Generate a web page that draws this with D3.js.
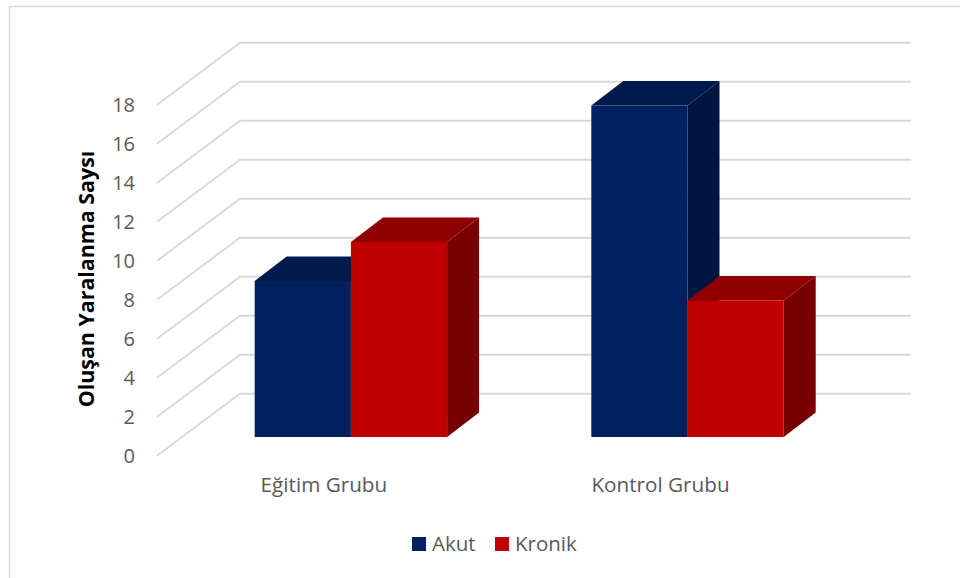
<!DOCTYPE html>
<html><head><meta charset="utf-8">
<script src="https://cdnjs.cloudflare.com/ajax/libs/d3/7.8.5/d3.min.js"></script>
<style>html,body{margin:0;padding:0;background:#fff}svg{display:block}text{font-family:"Open Sans",sans-serif}</style>
</head><body><svg id="c" width="960" height="578"></svg>
<script>
const categories = ["Eğitim Grubu", "Kontrol Grubu"];
const seriesNames = ["Akut", "Kronik"];
const akut = [8, 17];
const kronik = [10, 7];
const tickValues = [0,2,4,6,8,10,12,14,16,18];
const yTitle = "Oluşan Yaralanma Saysı";
const fills = {Akut:{front:"#002060",top:"#001A4D",side:"#001542"},Kronik:{front:"#C00000",top:"#900000",side:"#780000"}};

const svg = d3.select("#c");
svg.append("path").attr("d","M9.5,578V6.5H960").attr("fill","none").attr("stroke","#d9d9d9").attr("stroke-width",1.5);

// wall scale (front edge of the floor)
const y = d3.scaleLinear().domain([0,18]).range([455.7,104.7]);
const wallDx = 83, wallDy = -62, gridRight = 911, wallX = 157;
const grid = svg.append("g");
grid.selectAll("path").data(tickValues).join("path")
  .attr("d",d=>d3.line()([[wallX,y(d)],[wallX+wallDx,y(d)+wallDy],[gridRight,y(d)+wallDy]]))
  .attr("fill","none").attr("stroke","#d9d9d9").attr("stroke-width",2);

const axis = d3.axisLeft(y).tickValues(tickValues).tickSize(0).tickPadding(22);
const ag = svg.append("g").attr("transform",`translate(${wallX},0)`).call(axis);
ag.select(".domain").remove();
ag.selectAll("text").attr("font-size",20).attr("fill","#595959").style("font-family",'"Open Sans",sans-serif');

// bars
const base = 437, barDx = 32, barDy = -24.5;
const v = d3.scaleLinear().domain([0,18]).range([0,y(0)-y(18)]);
const x0 = d3.scaleBand().domain(categories).range([182.6,855.8]).paddingInner(0.4284).paddingOuter(0.2142);
const x1 = d3.scaleBand().domain(seriesNames).range([0,x0.bandwidth()]);
const rows = categories.map((c,i)=>[{c,s:"Akut",val:akut[i]},{c,s:"Kronik",val:kronik[i]}]);
const bars = svg.append("g");
rows.flat().forEach(d=>{
  const l=x0(d.c)+x1(d.s), w=x1.bandwidth(), t=base-v(d.val), c=fills[d.s];
  const g=bars.append("g");
  g.append("polygon").attr("points",[[l,t],[l+barDx,t+barDy],[l+w+barDx,t+barDy],[l+w,t]].join(" ")).attr("fill",c.top);
  g.append("polygon").attr("points",[[l+w,t],[l+w+barDx,t+barDy],[l+w+barDx,base+barDy],[l+w,base]].join(" ")).attr("fill",c.side);
  g.append("rect").attr("x",l).attr("y",t).attr("width",w).attr("height",base-t).attr("fill",c.front);
});

// category labels
svg.append("g").selectAll("text").data(categories).join("text")
  .attr("x",d=>x0(d)+x0.bandwidth()/2-27).attr("y",492)
  .attr("text-anchor","middle").attr("font-size",20.7).attr("fill","#595959").text(d=>d);

// y title
svg.append("text").attr("transform","translate(94,279) rotate(-90)").attr("text-anchor","middle")
  .attr("font-size",21.4).attr("font-weight",700).attr("fill","#000").text(yTitle);

// legend
const legendX = {Akut:412,Kronik:495};
const lg = svg.append("g");
seriesNames.forEach(s=>{
  lg.append("rect").attr("x",legendX[s]).attr("y",537).attr("width",14).attr("height",14).attr("fill",fills[s].front);
  lg.append("text").attr("x",legendX[s]+20).attr("y",551).attr("font-size",20.5).attr("fill","#595959").text(s);
});
</script></body></html>
